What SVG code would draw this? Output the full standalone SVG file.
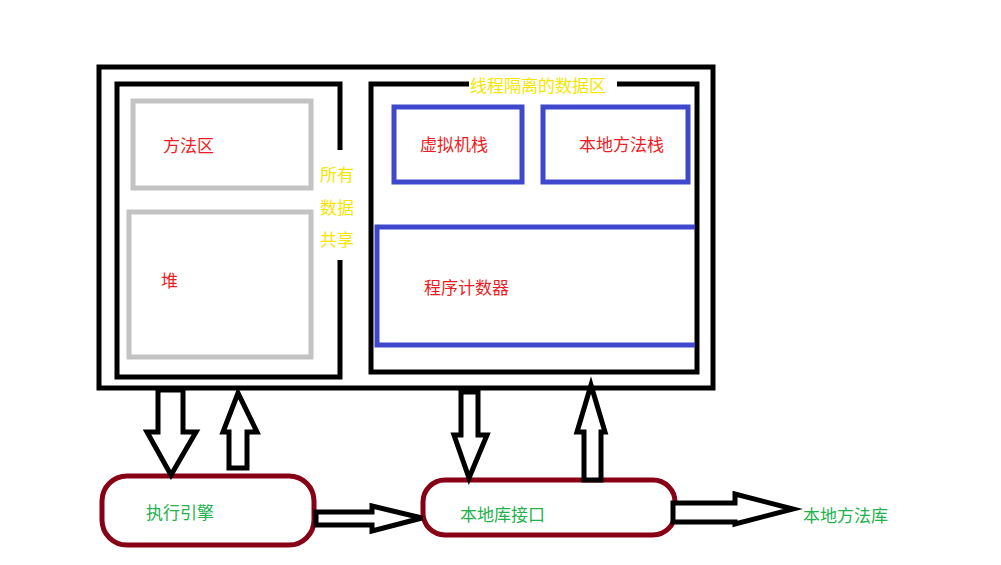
<svg xmlns="http://www.w3.org/2000/svg" width="1001" height="565" viewBox="0 0 1001 565">
<style>
.k{fill:none;stroke:#000;stroke-width:5}
.g{fill:none;stroke:#c3c3c3;stroke-width:5}
.b{fill:none;stroke:#3f48cc;stroke-width:5}
.r{fill:#fff;stroke:#880015;stroke-width:5}
.a{fill:#fff;stroke:#000;stroke-width:5;stroke-linejoin:miter}
text{font-family:"Noto Sans CJK SC",sans-serif;font-size:17px}
.tr{fill:#ed1c24}.ty{fill:#ffff00;fill:#f5e600}.tg{fill:#22b14c}
</style>
<rect width="1001" height="565" fill="#fff"/>
<g id="outer"><rect class="k" x="99" y="67" width="614" height="321"/></g>
<g id="shared">
<path class="k" d="M340,150 V84 H117 V377 H340 V260"/>
<text class="ty" x="320" y="181">所有</text>
<text class="ty" x="320" y="214">数据</text>
<text class="ty" x="320" y="246">共享</text>
</g>
<g id="method"><rect class="g" x="133" y="101" width="178" height="87"/><text class="tr" x="163" y="152">方法区</text></g>
<g id="heap"><rect class="g" x="129" y="212" width="182" height="145"/><text class="tr" x="161" y="287">堆</text></g>
<g id="isolated">
<path class="k" d="M469,84 H371 V372 H697 V84 H617"/>
<text class="ty" x="470" y="92">线程隔离的数据区</text>
</g>
<g id="vmstack"><rect class="b" x="394" y="107" width="128" height="75"/><text class="tr" x="420" y="151">虚拟机栈</text></g>
<g id="nstack"><rect class="b" x="543" y="107" width="145" height="75"/><text class="tr" x="579" y="151">本地方法栈</text></g>
<g id="pc"><path class="b" d="M695,227 H377 V345 H695"/><text class="tr" x="424" y="294">程序计数器</text></g>
<g id="engine"><rect class="r" x="102" y="476" width="212" height="69" rx="25"/><text class="tg" x="146" y="519">执行引擎</text></g>
<g id="nif"><rect class="r" x="423" y="480" width="252" height="55" rx="22"/><text class="tg" x="460" y="521">本地库接口</text></g>
<g id="nlib"><text class="tg" x="803" y="522">本地方法库</text></g>
<g id="connectors">
<path class="a" d="M158,390 H183 V432 H196 L171,475 L147,432 H158 Z"/>
<path class="a" d="M229,468 H247 V432 H257 L238,393 L223,432 H229 Z"/>
<path class="a" d="M461,392 H478 V435 H487 L469,478 L454,435 H461 Z"/>
<path class="a" d="M584,480 H601 V432 H605 L591,385 L577,432 H584 Z"/>
<path class="a" d="M316,512 H372 V506 L422,518 L372,531 V525 H316 Z"/>
<path class="a" d="M673,503 H735 V494 L793,509 L735,524 V522 H673 Z"/>
</g>
</svg>
